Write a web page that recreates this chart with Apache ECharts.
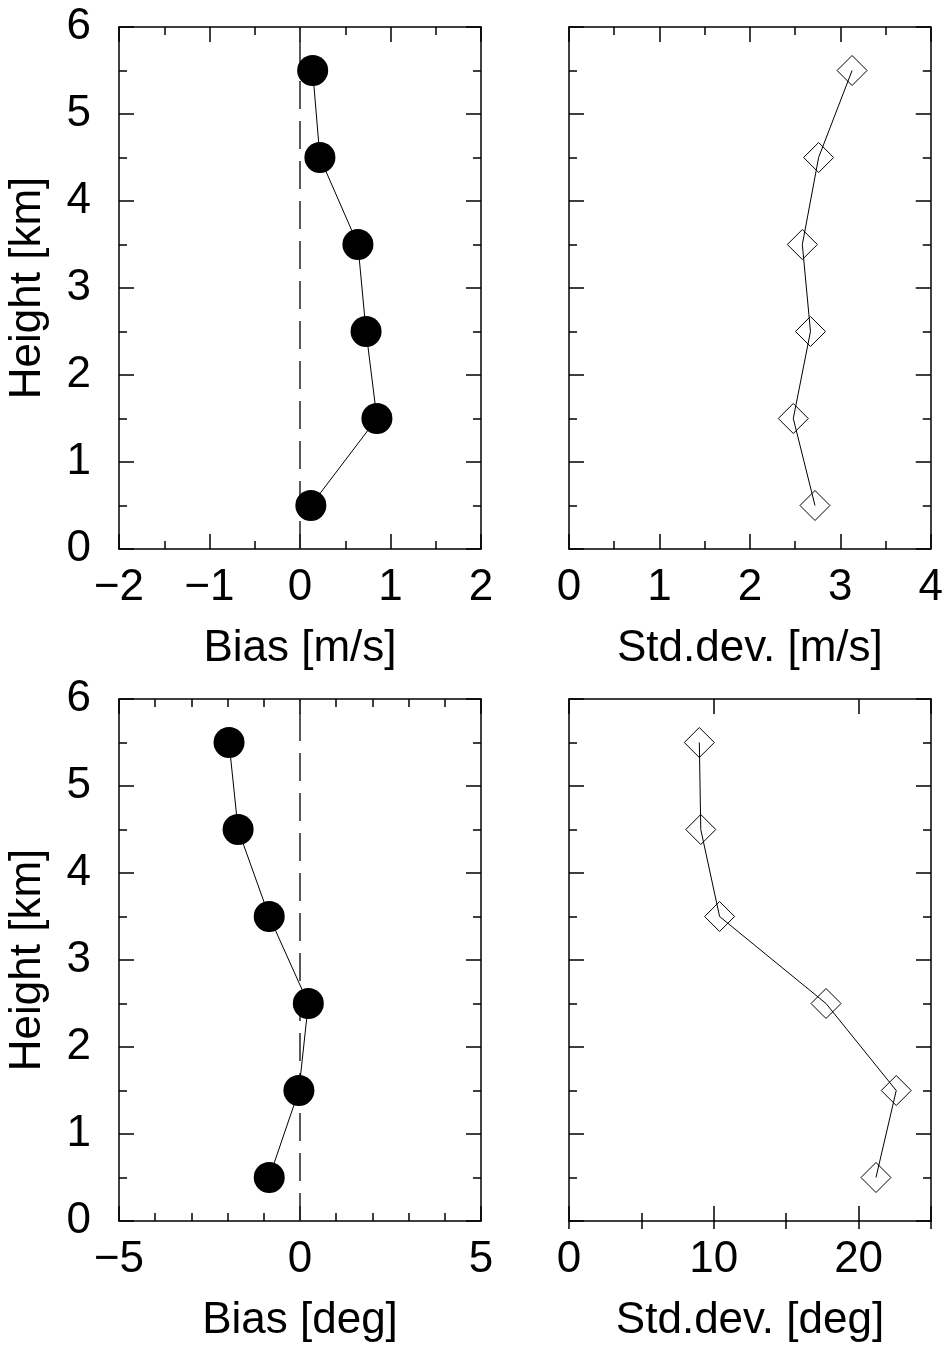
<!DOCTYPE html>
<html>
<head>
<meta charset="utf-8">
<script src="https://cdn.jsdelivr.net/npm/echarts@6/dist/echarts.min.js"></script>
<style>
  html, body { margin: 0; padding: 0; background: #fff; }
  #main { width: 946px; height: 1352px; }
</style>
</head>
<body>
<div id="main"></div>
<script>
// heights of the levels (km) and the values
var heights = [0.5, 1.5, 2.5, 3.5, 4.5, 5.5];
var biasSpeed = [0.12, 0.85, 0.73, 0.64, 0.22, 0.14];
var stdSpeed = [2.72, 2.48, 2.67, 2.58, 2.76, 3.13];
var biasDir = [-0.85, -0.03, 0.23, -0.85, -1.71, -1.96];
var stdDir = [21.2, 22.6, 17.75, 10.4, 9.1, 9.0];
var zeroLine = [[0, 0], [0, 6]];

var FONT = 'Liberation Sans';
var FS = 44;
var BLACK = '#000';

function pairs(vals) {
  return vals.map(function (v, i) { return [v, heights[i]]; });
}
function fmt(v) {
  return v < 0 ? '\u2212' + (-v) : String(v);
}

// panel settings
var panels = [
  { left: 119, top: 27, min: -2, max: 2, interval: 1, minor: 2, name: 'Bias [m/s]', vals: biasSpeed, dots: true, yname: true },
  { left: 569, top: 27, min: 0, max: 4, interval: 1, minor: 2, name: 'Std.dev. [m/s]', vals: stdSpeed, dots: false, yname: false },
  { left: 119, top: 699, min: -5, max: 5, interval: 5, minor: 5, name: 'Bias [deg]', vals: biasDir, dots: true, yname: true },
  { left: 569, top: 699, min: 0, max: 25, interval: 10, minor: 0, name: 'Std.dev. [deg]', vals: stdDir, dots: false, yname: false }
];

var grid = [], xAxis = [], yAxis = [], series = [];
var lineSt = { color: BLACK, width: 1.5 };

panels.forEach(function (p, i) {
  grid.push({ left: p.left, top: p.top, width: 362, height: 522 });

  var hasMinor = p.minor > 0;
  // bottom axis with labels
  var xMain = xAxis.length;
  xAxis.push({
    type: 'value', gridIndex: i, position: 'bottom', min: p.min, max: p.max, interval: p.interval,
    name: p.name, nameLocation: 'middle', nameGap: 78,
    nameTextStyle: { fontFamily: FONT, fontSize: FS, color: BLACK },
    axisLine: { show: true, onZero: false, lineStyle: lineSt },
    axisTick: { show: true, inside: true, length: 15, lineStyle: lineSt },
    minorTick: { show: hasMinor, splitNumber: p.minor || 2, length: 8, lineStyle: lineSt },
    axisLabel: {
      fontFamily: FONT, fontSize: FS, color: BLACK, margin: 17,
      formatter: function (v) { return v > 20 && p.max === 25 ? '' : fmt(v); }
    },
    splitLine: { show: false }
  });
  // top axis, ticks only
  xAxis.push({
    type: 'value', gridIndex: i, position: 'top', min: p.min, max: p.max, interval: p.interval,
    axisLine: { show: true, onZero: false, lineStyle: lineSt },
    axisTick: { show: true, inside: true, length: 15, lineStyle: lineSt },
    minorTick: { show: hasMinor, splitNumber: p.minor || 2, length: 8, lineStyle: lineSt },
    axisLabel: { show: false },
    splitLine: { show: false }
  });
  if (!hasMinor) {
    // short ticks every 5 for the last panel
    ['bottom', 'top'].forEach(function (pos) {
      xAxis.push({
        type: 'value', gridIndex: i, position: pos, min: p.min, max: p.max, interval: 5,
        axisLine: { show: false },
        axisTick: { show: true, inside: true, length: 8, lineStyle: lineSt },
        axisLabel: { show: false },
        splitLine: { show: false }
      });
    });
  }

  var yMain = yAxis.length;
  yAxis.push({
    type: 'value', gridIndex: i, position: 'left', min: 0, max: 6, interval: 1,
    name: p.yname ? 'Height [km]' : '', nameLocation: 'middle', nameGap: 69,
    nameTextStyle: { fontFamily: FONT, fontSize: FS, color: BLACK },
    axisLine: { show: true, onZero: false, lineStyle: lineSt },
    axisTick: { show: true, inside: true, length: 15, lineStyle: lineSt },
    minorTick: { show: true, splitNumber: 2, length: 8, lineStyle: lineSt },
    axisLabel: { show: p.yname, fontFamily: FONT, fontSize: FS, color: BLACK, margin: 28 },
    splitLine: { show: false }
  });
  yAxis.push({
    type: 'value', gridIndex: i, position: 'right', min: 0, max: 6, interval: 1,
    axisLine: { show: true, onZero: false, lineStyle: lineSt },
    axisTick: { show: true, inside: true, length: 15, lineStyle: lineSt },
    minorTick: { show: true, splitNumber: 2, length: 8, lineStyle: lineSt },
    axisLabel: { show: false },
    splitLine: { show: false }
  });

  if (p.dots) {
    series.push({
      type: 'line', xAxisIndex: xMain, yAxisIndex: yMain, data: zeroLine, z: 1,
      symbol: 'none', silent: true,
      lineStyle: { color: '#222', width: 1.5, type: [28, 12] }
    });
  }
  series.push({
    type: 'line', xAxisIndex: xMain, yAxisIndex: yMain, data: pairs(p.vals), z: 3,
    symbol: p.dots ? 'circle' : 'diamond', symbolSize: p.dots ? 31 : 30,
    itemStyle: p.dots ? { color: BLACK } : { color: 'rgba(0,0,0,0)', borderColor: BLACK, borderWidth: 1 },
    lineStyle: { color: BLACK, width: 1 }
  });
});

var chart = echarts.init(document.getElementById('main'), null, { renderer: 'canvas' });
chart.setOption({
  backgroundColor: '#fff',
  animation: false,
  grid: grid,
  xAxis: xAxis,
  yAxis: yAxis,
  series: series
});
</script>
</body>
</html>
